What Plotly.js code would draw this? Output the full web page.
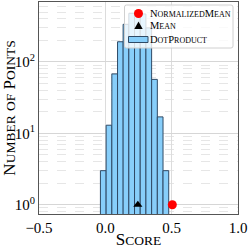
<!DOCTYPE html>
<html>
<head>
<meta charset="utf-8">
<script src="https://cdn.plot.ly/plotly-3.0.1.min.js"></script>
<style>html,body{margin:0;padding:0;background:#fff;}#chart{width:249px;height:249px;}</style>
</head>
<body>
<div id="chart"></div>
<script>
// Histogram bins (left edges) and counts
const binLeftEdges = [-0.037, 0.006, 0.049, 0.092, 0.134, 0.177, 0.220, 0.263, 0.306, 0.349, 0.392, 0.435];
const binWidth = 0.0429;
const binCounts = [3, 13, 68, 192, 337, 480, 507, 470, 300, 57, 17, 3];
// Scatter markers
const meanX = [0.245];
const meanY = [1];
const normMeanX = [0.505];
const normMeanY = [1];
const seriesNames = ['NormalizedMean', 'Mean', 'DotProduct'];
const xTickVals = [-0.5, 0.0, 0.5, 1.0];
const xTickText = ['\u22120.5', '0.0', '0.5', '1.0'];
const yTickVals = [1, 10, 100];
const yTickText = ['10<sup>0</sup>', '10<sup>1</sup>', '10<sup>2</sup>'];

const FONT = 'Liberation Serif, DejaVu Serif, serif';

// manual small caps: uppercase letters at base size, lowercase -> smaller capitals
function smallCaps(s, small) {
  let out = '', buf = '';
  const flush = () => { if (buf) { out += '<span style="font-size:' + small + 'px">' + buf.toUpperCase() + '</span>'; buf = ''; } };
  for (const ch of s) {
    if (ch >= 'a' && ch <= 'z') buf += ch;
    else { flush(); out += ch; }
  }
  flush();
  return out;
}

const binCenters = binLeftEdges.map(e => e + binWidth / 2);
const COLORS = {norm: '#ff0000', mean: '#000000', barFill: '#87CEFA', barLine: '#2f4a66'};

const traces = [
  {
    type: 'bar', name: seriesNames[2],
    x: binCenters, y: binCounts, width: binWidth,
    marker: {color: COLORS.barFill, line: {color: COLORS.barLine, width: 1}}
  },
  {
    type: 'scatter', mode: 'markers', name: seriesNames[0],
    x: normMeanX, y: normMeanY,
    marker: {color: COLORS.norm, size: 9, symbol: 'circle'},
    cliponaxis: false
  },
  {
    type: 'scatter', mode: 'markers', name: seriesNames[1],
    x: meanX, y: meanY,
    marker: {color: COLORS.mean, size: 8, symbol: 'triangle-up'}
  }
];

// plot area in pixels (for placing the legend box)
const PL = 39, PT = 2, PW = 199, PH = 212;
const px = x => (x - PL) / PW;
const py = y => 1 - (y - PT) / PH;

function roundRectPath(x0, y0, x1, y1, r) {
  // pixel coords -> paper path
  const X = v => px(v), Y = v => py(v);
  return 'M' + X(x0 + r) + ',' + Y(y0) +
    ' L' + X(x1 - r) + ',' + Y(y0) +
    ' Q' + X(x1) + ',' + Y(y0) + ' ' + X(x1) + ',' + Y(y0 + r) +
    ' L' + X(x1) + ',' + Y(y1 - r) +
    ' Q' + X(x1) + ',' + Y(y1) + ' ' + X(x1 - r) + ',' + Y(y1) +
    ' L' + X(x0 + r) + ',' + Y(y1) +
    ' Q' + X(x0) + ',' + Y(y1) + ' ' + X(x0) + ',' + Y(y1 - r) +
    ' L' + X(x0) + ',' + Y(y0 + r) +
    ' Q' + X(x0) + ',' + Y(y0) + ' ' + X(x0 + r) + ',' + Y(y0) + ' Z';
}

const legRows = [13.5, 26, 39.5];
const symX = 138.5;
const textX = 148;

const shapes = [
  {type: 'path', xref: 'paper', yref: 'paper', layer: 'above',
   path: roundRectPath(124.5, 5, 233, 48, 2),
   fillcolor: 'rgba(255,255,255,0.8)', line: {color: '#d0d0d0', width: 1}},
  {type: 'circle', xref: 'paper', yref: 'paper', layer: 'above',
   x0: px(symX - 4.5), x1: px(symX + 4.5), y0: py(legRows[0] - 4.5), y1: py(legRows[0] + 4.5),
   fillcolor: COLORS.norm, line: {width: 0}},
  {type: 'path', xref: 'paper', yref: 'paper', layer: 'above',
   path: 'M' + px(symX) + ',' + py(legRows[1] - 4.5) + ' L' + px(symX + 4.2) + ',' + py(legRows[1] + 3) +
         ' L' + px(symX - 4.2) + ',' + py(legRows[1] + 3) + ' Z',
   fillcolor: COLORS.mean, line: {width: 0}},
  {type: 'rect', xref: 'paper', yref: 'paper', layer: 'above',
   x0: px(128.5), x1: px(148), y0: py(legRows[2] - 3), y1: py(legRows[2] + 3),
   fillcolor: COLORS.barFill, line: {color: COLORS.barLine, width: 1}}
];

const annotations = seriesNames.map((n, i) => ({
  xref: 'paper', yref: 'paper', x: px(textX), y: py(legRows[i]),
  xanchor: 'left', yanchor: 'middle', showarrow: false,
  text: smallCaps(n, 8), font: {family: FONT, size: 10.5, color: '#000'}
}));

const layout = {
  width: 249, height: 249,
  margin: {l: PL, r: 249 - PL - PW, t: PT, b: 249 - PT - PH},
  paper_bgcolor: '#fff', plot_bgcolor: '#fff',
  showlegend: false,
  font: {family: FONT, color: '#000'},
  bargap: 0,
  shapes: shapes,
  annotations: annotations,
  xaxis: {
    range: [-0.5, 1.0], tickvals: xTickVals, ticktext: xTickText,
    showgrid: true, gridcolor: '#dcdcdc', gridwidth: 1,
    showline: true, mirror: true, linecolor: '#555', linewidth: 1,
    ticks: '', zeroline: false,
    tickfont: {family: FONT, size: 15},
    title: {text: smallCaps('Score', 13.5), font: {family: FONT, size: 17}, standoff: 2}
  },
  yaxis: {
    type: 'log', range: [-0.13, 2.84],
    tickvals: yTickVals, ticktext: yTickText,
    showgrid: true, gridcolor: '#d6d6d6', gridwidth: 1,
    showline: true, mirror: true, linecolor: '#555', linewidth: 1,
    ticks: '', zeroline: false,
    tickfont: {family: FONT, size: 15},
    minor: {showgrid: true, gridcolor: '#e6e6e6', griddash: 'dash', dtick: 'D1', ticks: ''},
    title: {text: smallCaps('Number of Points', 13.5), font: {family: FONT, size: 17}, standoff: 2}
  }
};

Plotly.newPlot('chart', traces, layout, {staticPlot: true, displayModeBar: false});
</script>
</body>
</html>
